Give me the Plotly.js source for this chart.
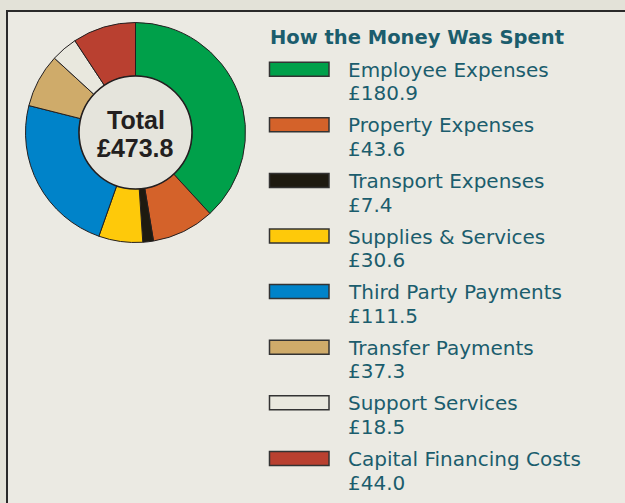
<!DOCTYPE html>
<html><head><meta charset="utf-8">
<script src="https://cdn.plot.ly/plotly-3.0.1.min.js"></script>
<style>
html,body{margin:0;padding:0;background:#e3e2d8;overflow:hidden;width:625px;height:503px;}
#panel{position:absolute;left:6px;top:10px;width:700px;height:600px;background:#ebeae3;border-top:2px solid #2a2a2a;border-left:2px solid #2a2a2a;}
#chart{position:absolute;left:0;top:0;width:625px;height:503px;overflow:hidden;}
</style>
</head><body><div id="panel"></div><div id="chart"></div>
<script>
const categories = ["Employee Expenses","Property Expenses","Transport Expenses","Supplies & Services","Third Party Payments","Transfer Payments","Support Services","Capital Financing Costs"];
const values = [180.9, 43.6, 7.4, 30.6, 111.5, 37.3, 18.5, 44.0];
const valueLabels = ["£180.9","£43.6","£7.4","£30.6","£111.5","£37.3","£18.5","£44.0"];
const colors = ["#00a04a","#d4622a","#1e1a10","#fec90a","#0083c9","#cfab6a","#e9e8de","#b94030"];
const totalWord = "Total";
const totalLabel = "£473.8";
const chartTitle = "How the Money Was Spent";

const W = 625, H = 503;
const px = x => x / W;
const py = y => 1 - y / H;

const cx = 135.5, cy = 132.5, R = 110, r = 56.5;
const teal = "#1b5d6d";
const legFont = "DejaVu Sans, sans-serif";
const ctrFont = "Liberation Sans, Arial, sans-serif";

const shapes = [
  {type:"circle", xref:"paper", yref:"paper", x0:px(cx-r), x1:px(cx+r), y0:py(cy+r), y1:py(cy-r),
   fillcolor:"#e5e4dc", line:{color:"#231f20", width:1.6}, layer:"above"}
];
const annotations = [
  {xref:"paper", yref:"paper", x:px(cx), y:py(120.3), text:"<b>"+totalWord+"</b>", showarrow:false,
   font:{family:ctrFont, size:25, color:"#231f20"}, xanchor:"center", yanchor:"middle"},
  {xref:"paper", yref:"paper", x:px(cx), y:py(148.4), text:"<b>"+totalLabel+"</b>", showarrow:false,
   font:{family:ctrFont, size:25, color:"#231f20"}, xanchor:"center", yanchor:"middle"},
  {xref:"paper", yref:"paper", x:px(268), y:py(37.8), text:"<b>"+chartTitle+"</b>", showarrow:false,
   font:{family:legFont, size:19.5, color:teal}, xanchor:"left", yanchor:"middle"}
];
categories.forEach((c, i) => {
  const yc = 69.2 + i * 55.6;           // swatch centre
  const base = yc + 7.5;                 // label baseline
  shapes.push({type:"rect", xref:"paper", yref:"paper", x0:px(269.5), x1:px(329), y0:py(yc+7), y1:py(yc-7),
    fillcolor:colors[i], line:{color:"#333333", width:1.5}});
  annotations.push({xref:"paper", yref:"paper", x:px(346), y:py(base-6.9), text:c, showarrow:false,
    font:{family:legFont, size:20, color:teal}, xanchor:"left", yanchor:"middle"});
  annotations.push({xref:"paper", yref:"paper", x:px(346), y:py(base+23.6-6.9), text:valueLabels[i], showarrow:false,
    font:{family:legFont, size:20, color:teal}, xanchor:"left", yanchor:"middle"});
});

const data = [{
  type:"pie", labels:categories, values:values, sort:false, direction:"clockwise", rotation:0,
  hole:r/R, textinfo:"none", hoverinfo:"label+value",
  marker:{colors:colors, line:{color:"#231f20", width:1}},
  domain:{x:[px(cx-R), px(cx+R)], y:[py(cy+R), py(cy-R)]}, showlegend:false
}];
const layout = {
  width:W, height:H, margin:{l:0,r:0,t:0,b:0},
  paper_bgcolor:"rgba(0,0,0,0)", plot_bgcolor:"rgba(0,0,0,0)",
  shapes:shapes, annotations:annotations, showlegend:false
};
Plotly.newPlot("chart", data, layout, {displayModeBar:false, staticPlot:true});
</script></body></html>
